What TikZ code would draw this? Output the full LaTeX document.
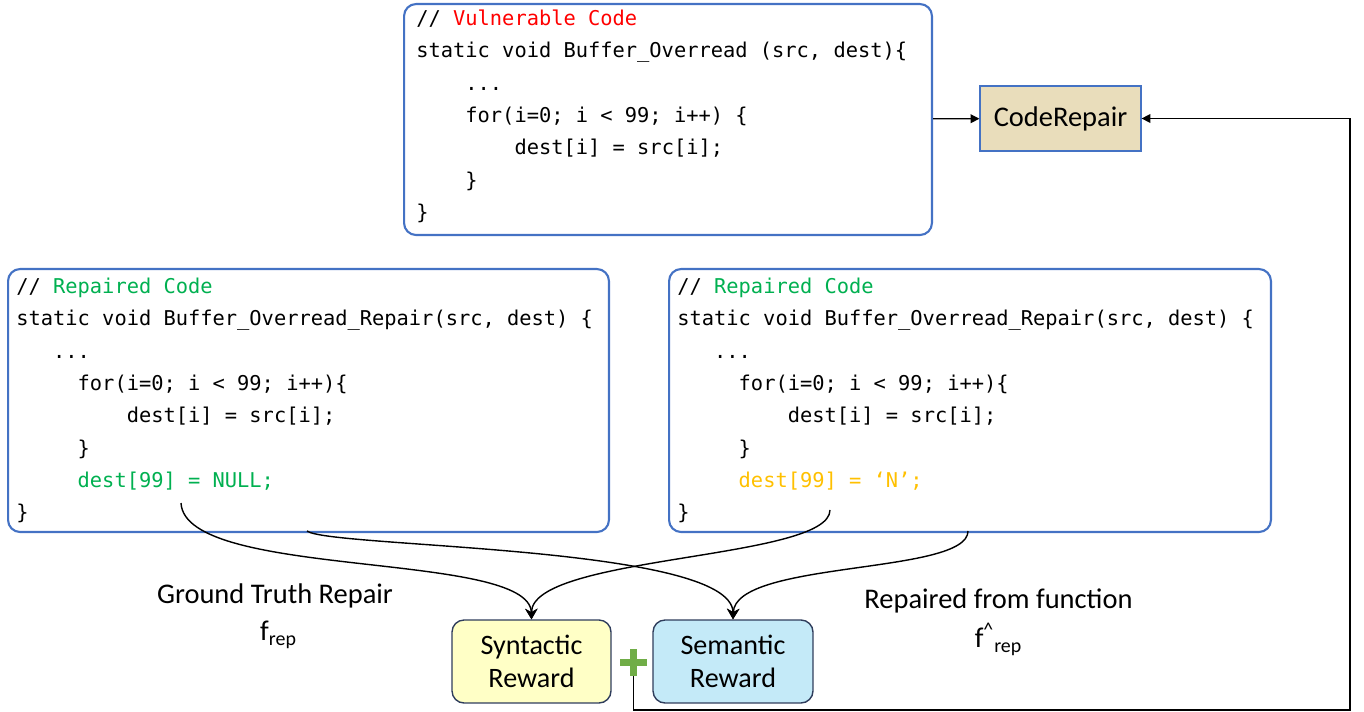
\documentclass[tikz,border=0pt]{standalone}
\usepackage{fontspec}
\setmainfont{Carlito}
\newfontfamily\codefont{DejaVu Sans Mono}
\usetikzlibrary{arrows.meta}

\definecolor{boxblue}{HTML}{4472C4}
\definecolor{rewardline}{HTML}{2F3D5C}
\definecolor{synfill}{HTML}{FFFFC6}
\definecolor{semfill}{HTML}{C4EAF8}
\definecolor{parchment}{HTML}{E9DDBB}
\definecolor{vulnred}{HTML}{FF0000}
\definecolor{repgreen}{HTML}{00B050}
\definecolor{guessorange}{HTML}{FFC000}
\definecolor{plusgreen}{HTML}{70AD47}

\newcommand\ind[1]{\hspace*{\dimexpr #1\fontcharwd\font`x\relax}}

\tikzset{
  codebox/.style={draw=boxblue, line width=1.2pt, rounded corners=0.24cm, anchor=north west},
  code/.style={anchor=north west, inner sep=0pt, align=left, font=\codefont\fontsize{11.6}{18.43}\selectfont},
  reward/.style={draw=rewardline, line width=0.8pt, rounded corners=0.24cm, align=center,
    minimum width=3.18cm, minimum height=1.66cm, inner sep=0pt, font=\fontsize{16}{18.7}\selectfont},
  lbl/.style={anchor=north, inner sep=0pt, align=center},
  arr/.style={-{Stealth[length=6pt,width=7pt]}, line width=0.8pt},
  thin arr/.style={-{Triangle[length=5pt,width=5pt]}, line width=0.7pt}
}

\begin{document}
\begin{tikzpicture}[x=0.02cm, y=-0.02cm]
  \useasboundingbox (0,0) rectangle (1364,712);

  \node[codebox, minimum width=10.56cm, minimum height=4.62cm] (vuln) at (403,3) {};
  \node[code] (vulntext) at (416,7.4) {\rule{0pt}{10pt}// \textcolor{vulnred}{Vulnerable Code}\\
static void Buffer\_Overread (src, dest)\{\\
\ind{4}...\\
\ind{4}for(i=0; i < 99; i++) \{\\
\ind{8}dest[i] = src[i];\\
\ind{4}\}\\
\}};

  \node[draw=boxblue, fill=parchment, line width=0.7pt, minimum width=3.22cm, minimum height=1.3cm,
    font=\fontsize{16.2}{19}\selectfont] (repair) at (1060.5,118.5) {CodeRepair};

  \node[codebox, minimum width=12.02cm, minimum height=5.26cm] (gtbox) at (7,268) {};
  \node[code] (gttext) at (16,275.4) {\rule{0pt}{10pt}// \textcolor{repgreen}{Repaired Code}\\
static void Buffer\_Overread\_Repair(src, dest) \{\\
\ind{3}...\\
\ind{5}for(i=0; i < 99; i++)\{\\
\ind{9}dest[i] = src[i];\\
\ind{5}\}\\
\ind{5}\textcolor{repgreen}{dest[99] = NULL;}\\
\}};

  \node[codebox, minimum width=12.04cm, minimum height=5.26cm] (predbox) at (668,268) {};
  \node[code] (predtext) at (677,275.4) {\rule{0pt}{10pt}// \textcolor{repgreen}{Repaired Code}\\
static void Buffer\_Overread\_Repair(src, dest) \{\\
\ind{3}...\\
\ind{5}for(i=0; i < 99; i++)\{\\
\ind{9}dest[i] = src[i];\\
\ind{5}\}\\
\ind{5}\textcolor{guessorange}{dest[99] = ‘N’;}\\
\}};

  \node[reward, fill=synfill] (syn) at (531.5,661.5) {Syntactic\\Reward};
  \node[reward, fill=semfill, minimum width=3.2cm] (sem) at (733,661.5) {Semantic\\Reward};

  \node[lbl, font=\fontsize{16.2}{21.5}\selectfont] (gtlabel) at (275,580)
    {\rule{0pt}{13pt}Ground Truth Repair\\\hspace*{4pt}f\textsubscript{rep}};
  \node[lbl, font=\fontsize{16.2}{22.5}\selectfont] (predlabel) at (998.5,585)
    {\rule{0pt}{13pt}Repaired from function\\f\textsuperscript{\textasciicircum}\textsubscript{rep}};

  \fill[plusgreen] (620,659) rectangle (647,666);
  \fill[plusgreen] (630,649) rectangle (637,676);

  \coordinate (nullfoot) at (181,503);
  \coordinate (gtfoot) at (307,531);
  \coordinate (nfoot) at (830,510);
  \coordinate (predfoot) at (968,531);
  \coordinate (plusfoot) at (633.5,676);
  \coordinate (loop) at (1350,710);

  \draw[thin arr] (vuln) -- (repair);
  \draw[arr] (nullfoot) .. controls (185,580) and (530,550) .. (syn.north);
  \draw[arr] (gtfoot) .. controls (330,548) and (733,545) .. (sem.north);
  \draw[arr] (nfoot) .. controls (830,560) and (531,555) .. (syn.north);
  \draw[arr] (predfoot) .. controls (968,575) and (735,560) .. (sem.north);
  \draw[thin arr] (plusfoot) |- (loop) |- (repair.east);
\end{tikzpicture}
\end{document}
